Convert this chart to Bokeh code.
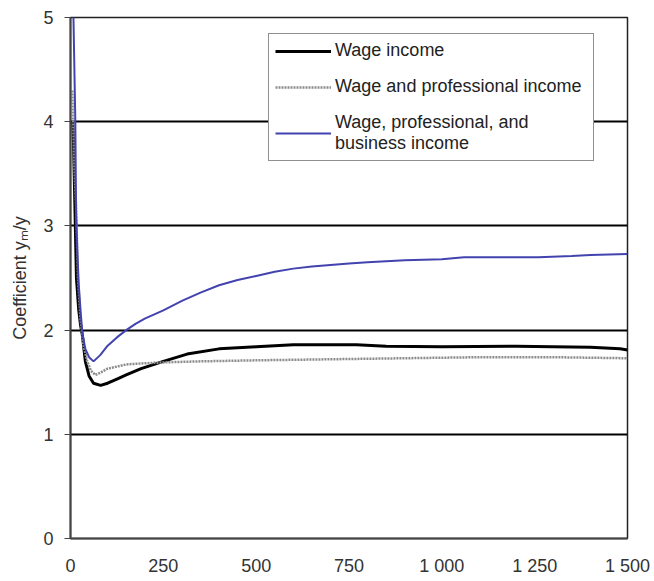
from bokeh.plotting import figure
from bokeh.models import Legend, LegendItem, FixedTicker, Range1d
from bokeh.embed import file_html
from bokeh.resources import INLINE

# ---- data ----
blue_x = [4, 8, 13, 15, 18, 22, 27, 32, 40, 50, 62, 80, 100, 125, 150, 175, 200, 250, 300,
          350, 400, 450, 500, 550, 600, 650, 700, 750, 800, 900, 1000, 1060, 1150, 1260,
          1350, 1400, 1500]
blue_y = [5.8, 5.0, 4.0, 3.15, 2.8, 2.45, 2.19, 1.97, 1.82, 1.74, 1.70, 1.76, 1.85, 1.93,
          2.00, 2.06, 2.11, 2.19, 2.28, 2.36, 2.43, 2.48, 2.52, 2.56, 2.59, 2.61, 2.625,
          2.64, 2.65, 2.67, 2.68, 2.70, 2.70, 2.70, 2.71, 2.72, 2.73]

black_x = [6, 8, 10, 13, 16, 22, 27, 32, 40, 50, 62, 81, 100, 125, 150, 190, 250, 314, 400,
           500, 600, 700, 770, 850, 1000, 1200, 1400, 1480, 1500]
black_y = [4.0, 3.8, 3.5, 3.0, 2.5, 2.2, 2.05, 1.95, 1.70, 1.56, 1.49, 1.47, 1.49, 1.53,
           1.57, 1.63, 1.70, 1.77, 1.82, 1.84, 1.86, 1.86, 1.86, 1.845, 1.84, 1.845, 1.835,
           1.82, 1.81]

gray_x = [5, 10, 15, 20, 27, 35, 45, 55, 67, 80, 100, 125, 150, 190, 250, 350, 500, 700,
          900, 1100, 1300, 1500]
gray_y = [4.3, 3.6, 3.2, 2.5, 2.1, 1.85, 1.70, 1.61, 1.57, 1.59, 1.63, 1.65, 1.67, 1.68,
          1.69, 1.70, 1.71, 1.72, 1.73, 1.74, 1.74, 1.73]

x_ticks = [0, 250, 500, 750, 1000, 1250, 1500]
x_tick_labels = ["0", "250", "500", "750", "1 000", "1 250", "1 500"]
y_ticks = [0, 1, 2, 3, 4, 5]

series_names = ["Wage income", "Wage and professional income",
                "Wage, professional, and\nbusiness income"]

FONT = "Liberation Sans"

p = figure(width=654, height=580, output_backend="svg", toolbar_location=None,
           x_range=Range1d(0, 1500), y_range=Range1d(0, 5),
           min_border_left=70, min_border_right=27, min_border_top=17, min_border_bottom=42)
p.background_fill_color = "white"
p.border_fill_color = "white"
p.outline_line_color = "#222222"
p.outline_line_width = 1.5

# grid
p.xgrid.grid_line_color = None
p.ygrid.grid_line_color = "black"
p.ygrid.grid_line_width = 2
p.ygrid.ticker = FixedTicker(ticks=[1, 2, 3, 4, 5])

# axes
p.xaxis.ticker = FixedTicker(ticks=x_ticks)
p.xaxis.major_label_overrides = {t: l for t, l in zip(x_ticks, x_tick_labels)}
p.yaxis.ticker = FixedTicker(ticks=y_ticks)
for ax in (p.xaxis[0], p.yaxis[0]):
    ax.axis_line_color = "#444444"
    ax.axis_line_width = 2
    ax.minor_tick_line_color = None
    ax.major_label_text_font = FONT
    ax.major_label_text_font_size = "18px"
    ax.major_label_text_color = "#333333"
p.xaxis.major_tick_line_color = None
p.xaxis.major_tick_out = 0
p.xaxis.major_tick_in = 0
p.xaxis.major_label_standoff = 17
p.yaxis.major_tick_line_color = "#444444"
p.yaxis.major_tick_out = 6
p.yaxis.major_tick_in = 0
p.yaxis.major_label_standoff = 11
p.yaxis.axis_label = "Coefficient yₘ/y"
p.yaxis.axis_label_text_font = FONT
p.yaxis.axis_label_text_font_style = "normal"
p.yaxis.axis_label_text_font_size = "18px"
p.yaxis.axis_label_text_color = "#333333"
p.yaxis.axis_label_standoff = 10

# lines
r_black = p.line(black_x, black_y, line_color="black", line_width=3)
r_gray = p.line(gray_x, gray_y, line_color="#8c8c8c", line_width=2.5, line_dash="2 1")
r_blue = p.line(blue_x, blue_y, line_color="#4343b0", line_width=2)

legend = Legend(items=[LegendItem(label=series_names[0], renderers=[r_black]),
                       LegendItem(label=series_names[1], renderers=[r_gray]),
                       LegendItem(label=series_names[2], renderers=[r_blue])],
                location=(198, 377))
legend.border_line_color = "#222222"
legend.border_line_width = 1.5
legend.background_fill_color = "white"
legend.background_fill_alpha = 1
legend.label_text_font = FONT
legend.label_text_font_size = "18px"
legend.label_text_color = "#222222"
legend.label_text_line_height = 1.4
legend.label_width = 252
legend.glyph_width = 56
legend.label_standoff = 4
legend.padding = 6
legend.spacing = 15
legend.margin = 0
p.add_layout(legend)

open("out.html", "w").write(file_html(p, INLINE))
